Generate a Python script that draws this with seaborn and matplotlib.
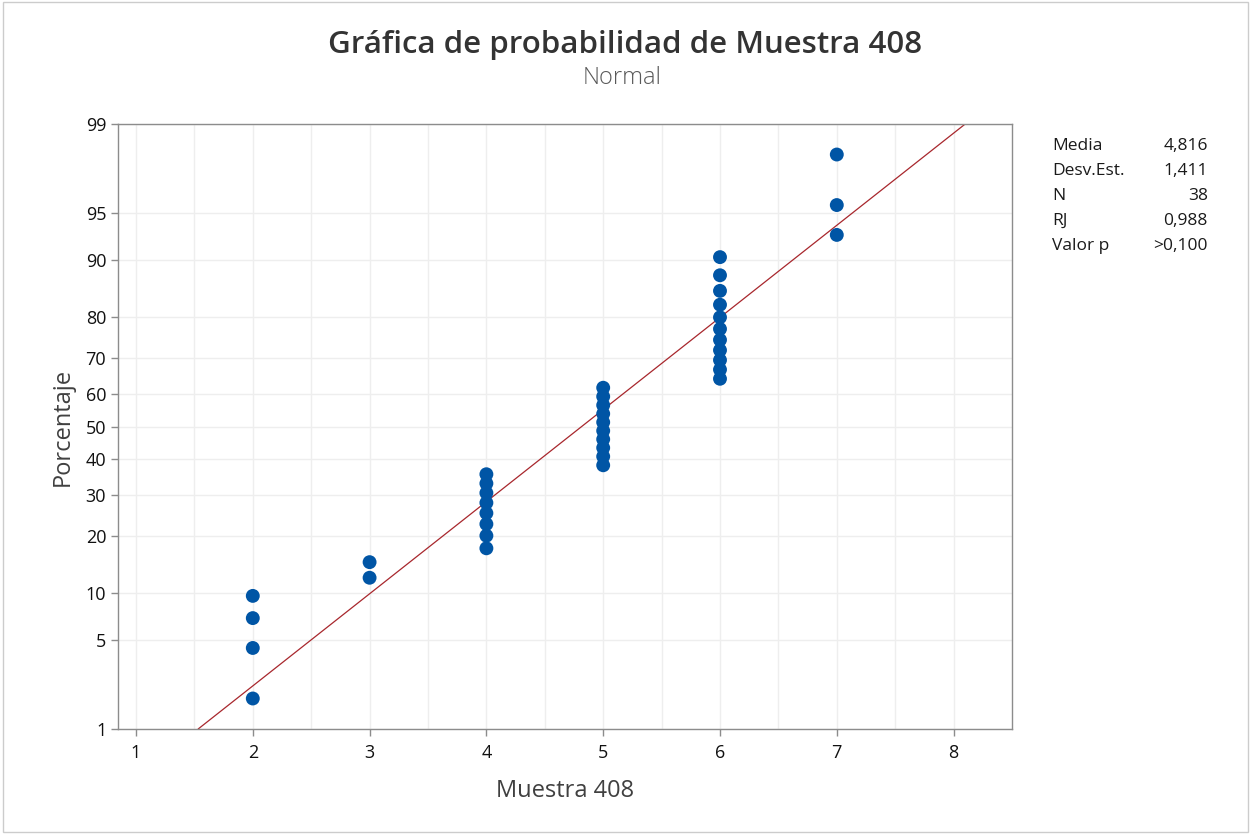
import numpy as np
import pandas as pd
import matplotlib
matplotlib.use("Agg")
import matplotlib.pyplot as plt
import seaborn as sns
from statistics import NormalDist

# datos: valores de la muestra y cuantos hay de cada uno
valores = [2, 3, 4, 5, 6, 7]
conteos = [4, 2, 8, 10, 11, 3]
ticks_y = [1, 5, 10, 20, 30, 40, 50, 60, 70, 80, 90, 95, 99]
ticks_x = [1, 2, 3, 4, 5, 6, 7, 8]

muestra = np.repeat(valores, conteos).astype(float)
n = len(muestra)
media = muestra.mean()
desv = muestra.std(ddof=1)
# rangos medianos de Benard
pct = (np.arange(1, n + 1) - 0.3) / (n + 0.4) * 100
df = pd.DataFrame({"Muestra 408": np.sort(muestra), "Porcentaje": pct})

nd = NormalDist()
fwd = np.vectorize(lambda p: nd.inv_cdf(min(max(p / 100, 1e-9), 1 - 1e-9)), otypes=[float])
inv = np.vectorize(lambda z: nd.cdf(z) * 100, otypes=[float])

sns.set_theme(style="white")
plt.rcParams["font.family"] = ["Open Sans", "DejaVu Sans"]

fig = plt.figure(figsize=(12.5, 8.34), dpi=100)
ax = fig.add_axes([0.0944, 0.1259, 0.7152, 0.7254])
ax.set_yscale("function", functions=(fwd, inv))

# linea ajustada
p_lin = np.array([1, 99])
x_lin = media + desv * np.array([nd.inv_cdf(p / 100) for p in p_lin])
ax.plot(x_lin, p_lin, color="#A8272D", lw=0.9, zorder=2)

sns.scatterplot(data=df, x="Muestra 408", y="Porcentaje", ax=ax, s=100,
                color="#0055A5", edgecolor="none", zorder=3)

ax.set_xlim(0.846, 8.5)
ax.set_ylim(1, 99)
ax.set_yticks(ticks_y)
ax.set_yticklabels([str(t) for t in ticks_y], fontweight="medium")
ax.set_xticks(ticks_x)
ax.set_xticklabels([str(t) for t in ticks_x], fontweight="medium")
ax.set_xticks(np.arange(1.5, 8.5, 1), minor=True)
ax.grid(True, which="both", axis="x", color="#EEEEEE", lw=1)
ax.grid(True, which="major", axis="y", color="#EEEEEE", lw=1)
ax.set_axisbelow(True)
for s in ax.spines.values():
    s.set_color("#8C8C8C")
    s.set_linewidth(1)
ax.tick_params(axis="both", which="major", length=5, width=1, color="#8C8C8C",
               labelsize=13, labelcolor="#111111", left=True, bottom=True)
ax.tick_params(axis="x", which="major", pad=6)
ax.tick_params(axis="x", which="minor", length=0)
ax.set_xlabel("Muestra 408", fontsize=17, color="#404040", labelpad=12, fontweight="medium")
ax.set_ylabel("Porcentaje", fontsize=17, color="#404040", labelpad=8, fontweight="medium")

fig.text(0.5, 0.946, "Gráfica de probabilidad de Muestra 408", ha="center", va="center",
         fontsize=22.5, color="#333333", fontweight="semibold")
fig.text(0.4975, 0.907, "Normal", ha="center", va="center", fontsize=17,
         color="#595959", fontweight="light")

etiquetas = ["Media", "Desv.Est.", "N", "RJ", "Valor p"]
textos = [f"{media:.3f}".replace(".", ","), f"{desv:.3f}".replace(".", ","), str(n), "0,988", ">0,100"]
for i, (e, t) in enumerate(zip(etiquetas, textos)):
    y = 1 - (146 + i * 25) / 834
    fig.text(1052 / 1250, y, e, ha="left", va="center", fontsize=12.5, color="#1A1A1A",
             fontweight="medium")
    fig.text(1208 / 1250, y, t, ha="right", va="center", fontsize=12.5, color="#1A1A1A",
             fontweight="medium")

fig.patches.append(plt.Rectangle((0.002, 0.002), 0.996, 0.996, transform=fig.transFigure,
                                 fill=False, edgecolor="#CCCCCC", lw=1))
fig.savefig("out.png", dpi=100)
